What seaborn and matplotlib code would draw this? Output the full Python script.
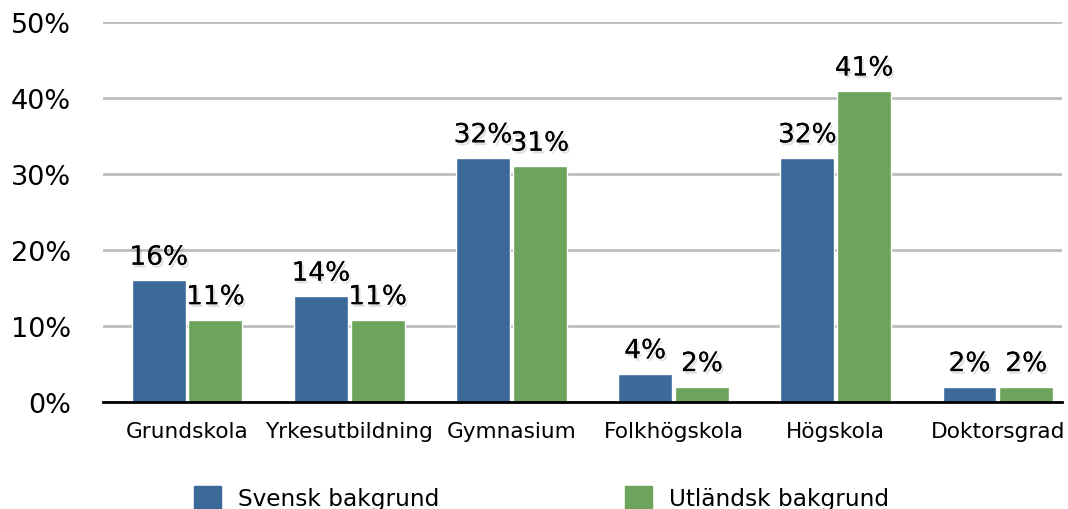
import pandas as pd
import numpy as np
import seaborn as sns
import matplotlib.pyplot as plt
import matplotlib.patheffects as pe

categories = ['Grundskola', 'Yrkesutbildning', 'Gymnasium', 'Folkhögskola', 'Högskola', 'Doktorsgrad']
svensk = [16.0, 13.9, 32.1, 3.7, 32.1, 2.0]
utlandsk = [10.8, 10.8, 31.0, 2.0, 40.9, 2.0]
svensk_labels = ['16%', '14%', '32%', '4%', '32%', '2%']
utlandsk_labels = ['11%', '11%', '31%', '2%', '41%', '2%']
series = ['Svensk bakgrund', 'Utländsk bakgrund']
colors = ['#3b6999', '#6ba45a']

df = pd.DataFrame({
    'Utbildning': categories * 2,
    'Andel': svensk + utlandsk,
    'Grupp': [series[0]] * 6 + [series[1]] * 6,
})

sns.set_style('white')
plt.rcParams['font.family'] = ['DejaVu Sans']
plt.rcParams['text.color'] = 'black'
plt.rcParams['xtick.color'] = 'black'
plt.rcParams['ytick.color'] = 'black'

fig = plt.figure(figsize=(10.68, 5.1), dpi=100)
ax = fig.add_axes([0.0965, 0.2098, 0.8978, 0.7451])

sns.barplot(data=df, x='Utbildning', y='Andel', hue='Grupp', palette=colors,
            width=0.70, gap=0.05, saturation=1, ax=ax, legend=True)

ax.set_ylim(0, 50)
ax.set_xlim(-0.518, 5.395)
ax.set_yticks(range(0, 51, 10))
ax.set_yticklabels([f'{v}%' for v in range(0, 51, 10)], fontsize=19.5)
ax.tick_params(axis='y', length=0, pad=23)
ax.tick_params(axis='x', length=0, pad=14, labelsize=15.6)
ax.set_xlabel('')
ax.set_ylabel('')
ax.yaxis.grid(True, color='#bdbdbd', linewidth=2)
ax.set_axisbelow(True)
for s in ['left', 'right', 'top']:
    ax.spines[s].set_visible(False)
ax.spines['bottom'].set_color('black')
ax.spines['bottom'].set_linewidth(2)

# etiketter med svag skugga
shadow = [pe.withSimplePatchShadow(offset=(1.5, -2), shadow_rgbFace='#999999', alpha=0.3), pe.Normal()]
for cont, labs in zip(ax.containers, [svensk_labels, utlandsk_labels]):
    for bar, lab in zip(cont, labs):
        ax.annotate(lab, (bar.get_x() + bar.get_width() / 2, bar.get_height()),
                    xytext=(0, 7), textcoords='offset points', ha='center', va='bottom',
                    fontsize=19, path_effects=shadow)

ax.get_legend().remove()
handles = [plt.Rectangle((0, 0), 1, 1, color=c) for c in colors]
fig.legend(handles, series, loc='upper left', bbox_to_anchor=(0.1816, 0.046), ncol=2,
           frameon=False, fontsize=16.7, handlelength=1.15, handleheight=1.15,
           handletextpad=0.75, columnspacing=8.0, borderaxespad=0, borderpad=0)

fig.savefig('out.png', dpi=100)
